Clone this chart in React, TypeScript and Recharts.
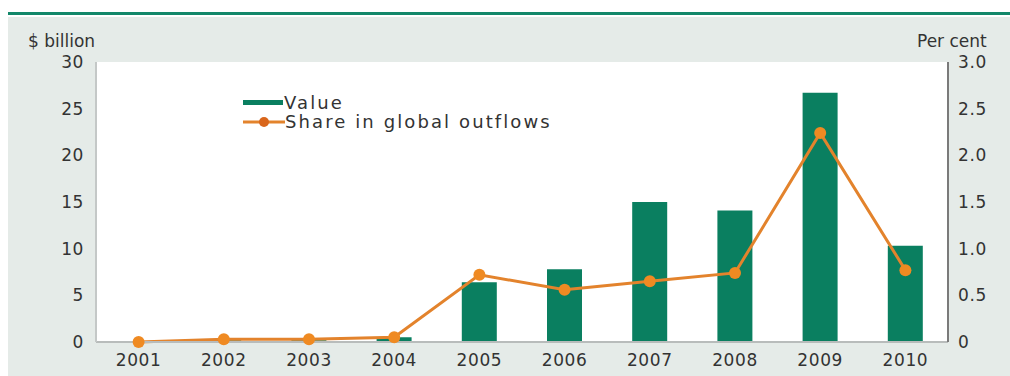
import React from 'react';
import { ComposedChart, Bar, Line, XAxis, YAxis, CartesianGrid } from 'recharts';

// Outward FDI: value ($ billion) and share in global outflows (per cent)
const years = ['2001', '2002', '2003', '2004', '2005', '2006', '2007', '2008', '2009', '2010'];
const valueBn = [0.1, 0.2, 0.2, 0.5, 6.4, 7.8, 15.0, 14.1, 26.7, 10.3];
const sharePct = [0.0, 0.03, 0.03, 0.05, 0.72, 0.56, 0.65, 0.74, 2.24, 0.77];
const leftTicks = [0, 5, 10, 15, 20, 25, 30];
const rightTicks = [0, 0.5, 1.0, 1.5, 2.0, 2.5, 3.0];

const GREEN = '#0a7f60';
const ORANGE = '#e3832c';
const FONT = '"DejaVu Sans", "Liberation Sans", Arial, sans-serif';

const data = years.map((year, i) => ({ year, value: valueBn[i], share: sharePct[i] }));

const tickStyle = { fontSize: 17, fill: '#333', fontFamily: FONT, letterSpacing: 0.6 };

function LegendBox() {
  return (
    <div style={{ fontFamily: FONT, fontSize: 18, color: '#333', lineHeight: '19px', letterSpacing: 2.1 }}>
      <div style={{ display: 'flex', alignItems: 'center' }}>
        <span style={{ display: 'inline-block', width: 40, height: 5, background: GREEN, marginRight: 1 }} />
        <span>Value</span>
      </div>
      <div style={{ display: 'flex', alignItems: 'center' }}>
        <svg width={42} height={12}>
          <line x1={0} y1={6} x2={42} y2={6} stroke={ORANGE} strokeWidth={3} />
          <circle cx={21} cy={6} r={5} fill="#d9661c" />
        </svg>
        <span>Share in global outflows</span>
      </div>
    </div>
  );
}

export default function App() {
  return (
    <div style={{ position: 'absolute', left: 0, top: 0, width: 1010, height: 376, background: '#fff', overflow: 'hidden' }}>
      <div style={{ position: 'absolute', left: 8, top: 12, width: 1002, height: 3, background: '#13876a' }} />
      <div style={{ position: 'absolute', left: 8, top: 17, width: 1002, height: 359, background: '#e5ebe8' }} />
      <div style={{ position: 'absolute', left: 28, top: 31, fontFamily: FONT, fontSize: 17, color: '#333' }}>
        $ billion
      </div>
      <div style={{ position: 'absolute', left: 917, top: 31, fontFamily: FONT, fontSize: 17, color: '#333', whiteSpace: 'nowrap' }}>
        Per cent
      </div>
      <div style={{ position: 'absolute', left: 0, top: 0 }}>
        <ComposedChart width={1010} height={376} data={data} margin={{ top: 62, right: 0, bottom: 4, left: 40 }} barCategoryGap={0}>
          <CartesianGrid fill="#ffffff" horizontal={false} vertical={false} />
          <XAxis
            dataKey="year"
            tickLine={false}
            axisLine={{ stroke: '#b8bcbb', strokeWidth: 2 }}
            tick={tickStyle}
            tickMargin={6}
            height={30}
            interval={0}
          />
          <YAxis
            yAxisId="left"
            domain={[0, 30]}
            ticks={leftTicks}
            tickLine={false}
            axisLine={{ stroke: '#c4c8c7', strokeWidth: 2 }}
            tick={tickStyle}
            tickMargin={6}
            width={56}
          />
          <YAxis
            yAxisId="right"
            orientation="right"
            domain={[0, 3]}
            ticks={rightTicks}
            tickFormatter={(v: number) => (v === 0 ? '0' : v.toFixed(1))}
            tickLine={false}
            axisLine={{ stroke: '#7a7a7a', strokeWidth: 2 }}
            tick={{ ...tickStyle, textAnchor: 'start' }}
            tickMargin={4}
            width={62}
          />
          <Bar yAxisId="left" dataKey="value" fill={GREEN} barSize={35} isAnimationActive={false} />
          <Line
            yAxisId="right"
            dataKey="share"
            type="linear"
            stroke={ORANGE}
            strokeWidth={3}
            dot={{ r: 6, fill: '#ef8a22', stroke: 'none' }}
            activeDot={false}
            isAnimationActive={false}
          />
        </ComposedChart>
      </div>
      <div style={{ position: 'absolute', left: 243, top: 93 }}>
        <LegendBox />
      </div>
    </div>
  );
}
